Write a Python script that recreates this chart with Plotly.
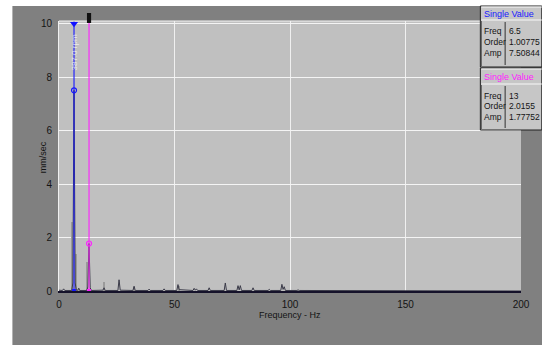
import plotly.graph_objects as go

# ---- spectrum data (frequency in Hz, amplitude in mm/sec) ----
freq_hz = [0.0, 1.5, 2.0, 2.5, 5.5, 6.0, 6.5, 7.0, 7.5, 8.0, 8.5, 9.0,
           12.0, 12.5, 13.0, 13.5, 14.0, 19.0, 19.5, 20.0, 25.5, 26.0, 26.5,
           32.0, 32.5, 33.0, 38.5, 39.0, 39.5, 45.0, 45.5, 46.0, 51.0, 51.5,
           52.0, 58.0, 58.5, 59.0, 59.5, 60.0, 64.5, 65.0, 65.5, 71.5, 72.0,
           72.5, 77.0, 77.5, 78.0, 78.5, 79.0, 83.5, 84.0, 84.5, 90.5, 91.0,
           91.5, 96.0, 96.5, 97.0, 97.5, 98.0, 103.0, 103.5, 104.0, 200.0]
amp_mm_s = [0.03, 0.02, 0.08, 0.02, 0.02, 0.3, 7.50844, 0.3, 0.03, 0.02, 0.1, 0.02,
            0.02, 0.15, 1.77752, 0.12, 0.02, 0.03, 0.12, 0.02, 0.02, 0.42, 0.03,
            0.02, 0.18, 0.02, 0.02, 0.07, 0.02, 0.02, 0.08, 0.02, 0.02, 0.24,
            0.05, 0.02, 0.1, 0.03, 0.08, 0.02, 0.02, 0.12, 0.02, 0.02, 0.3,
            0.02, 0.02, 0.2, 0.04, 0.2, 0.02, 0.02, 0.12, 0.02, 0.02, 0.06,
            0.02, 0.02, 0.25, 0.06, 0.16, 0.02, 0.02, 0.04, 0.02, 0.0]

# neighbouring bins drawn in lighter gray
side_freq = [5.75, 7.25, 12.25, 19.5, 8.5, 32.5, 52.0]
side_amp = [2.6, 1.4, 1.1, 0.35, 0.12, 0.15, 0.2]

# cursors
cursor_freq = [6.5, 13.0]
cursor_amp = [7.50844, 1.77752]
cursor_order = [1.00775, 2.0155]
cursor_color = ["#1818ff", "#ff20ff"]
rpm_label = "387.0 rpm"

x_ticks = [0, 50, 100, 150, 200]
y_ticks = [0, 2, 4, 6, 8, 10]

FONT = "Liberation Sans, Arial, sans-serif"
INK = "#141414"

# plot-area pixel frame used to place panel items in paper coordinates
L, R, T, B = 59, 525, 21, 291
W, H = R - L, B - T


def px(x):
    return (x - L) / W


def py(y):
    return (B - y) / H


fig = go.Figure()

fig.add_trace(go.Bar(x=side_freq, y=side_amp, width=0.45,
                     marker=dict(color="#9a9a9a", line=dict(width=0)),
                     hoverinfo="skip", showlegend=False))
fig.add_trace(go.Scatter(x=freq_hz, y=amp_mm_s, mode="lines",
                         line=dict(color="#3a3a48", width=1),
                         hoverinfo="skip", showlegend=False))

# cursor lines and markers
for f, a, c in zip(cursor_freq, cursor_amp, cursor_color):
    fig.add_trace(go.Scatter(x=[f, f], y=[0, 10.1], mode="lines",
                             line=dict(color=c, width=1.1),
                             hoverinfo="skip", showlegend=False))
    fig.add_trace(go.Scatter(x=[f], y=[a], mode="markers",
                             marker=dict(symbol="circle-open", size=5, color=c,
                                         line=dict(width=1.2)),
                             hoverinfo="skip", showlegend=False))
    fig.add_trace(go.Scatter(x=[f], y=[0], mode="markers",
                             marker=dict(symbol="square", size=4, color=c),
                             cliponaxis=False, hoverinfo="skip", showlegend=False))

fig.add_trace(go.Scatter(x=[cursor_freq[0]], y=[10.0], mode="markers",
                         marker=dict(symbol="triangle-down", size=7, color="#1010ff"),
                         cliponaxis=False, hoverinfo="skip", showlegend=False))

shapes = [
    # white border strips around the gray window
    dict(type="rect", xref="paper", yref="paper", x0=px(-5), x1=px(12),
         y0=py(350), y1=py(-5), fillcolor="white", line=dict(width=0), layer="below"),
    dict(type="rect", xref="paper", yref="paper", x0=px(-5), x1=px(550),
         y0=py(6), y1=py(-5), fillcolor="white", line=dict(width=0), layer="below"),
    # plot frame top edge
    dict(type="line", xref="paper", yref="paper", x0=0, x1=1, y0=1, y1=1,
         line=dict(color="#f4f4f4", width=1)),
    # black handle of the second cursor
    dict(type="rect", xref="x", yref="paper", x0=cursor_freq[1] - 0.9,
         x1=cursor_freq[1] + 0.9, y0=py(23), y1=py(13),
         fillcolor="#101010", line=dict(width=0)),
]

annotations = [
    dict(x=cursor_freq[0] + 0.2, y=py(52), xref="x", yref="paper", text=rpm_label,
         textangle=-90, showarrow=False, xanchor="center", yanchor="middle",
         font=dict(family=FONT, size=8, color="rgba(255,255,255,0.7)")),
    dict(x=px(43), y=py(157), xref="paper", yref="paper", text="mm/sec",
         textangle=-90, showarrow=False, xanchor="center", yanchor="middle",
         font=dict(family=FONT, size=9, color=INK)),
    dict(x=px(292), y=py(315), xref="paper", yref="paper", text="Frequency - Hz",
         showarrow=False, xanchor="center", yanchor="middle",
         font=dict(family=FONT, size=9, color=INK)),
]

# info panels
panel_x0, panel_x1, div_x = 484, 546, 509
panels = [(6, 20, 67), (68, 84, 130)]
for (top, hdr_bot, bot), f, a, o, c in zip(panels, cursor_freq, cursor_amp,
                                            cursor_order, cursor_color):
    shapes += [
        dict(type="rect", xref="paper", yref="paper", x0=px(panel_x0), x1=px(panel_x1),
             y0=py(bot), y1=py(top), fillcolor="#c6c6c6",
             line=dict(color="#202020", width=1)),
        dict(type="line", xref="paper", yref="paper", x0=px(panel_x0 + 1),
             x1=px(panel_x1), y0=py(hdr_bot), y1=py(hdr_bot),
             line=dict(color="#f8f8f8", width=1)),
        dict(type="line", xref="paper", yref="paper", x0=px(panel_x0 + 1),
             x1=px(panel_x1), y0=py(top + 1), y1=py(top + 1),
             line=dict(color="#f8f8f8", width=1)),
        dict(type="line", xref="paper", yref="paper", x0=px(div_x), x1=px(div_x),
             y0=py(bot - 2), y1=py(hdr_bot + 2), line=dict(color="#303030", width=1)),
        dict(type="line", xref="paper", yref="paper", x0=px(panel_x0 + 1),
             x1=px(panel_x0 + 1), y0=py(bot - 1), y1=py(hdr_bot + 1),
             line=dict(color="#5a5a5a", width=1)),
    ]
    annotations.append(dict(x=px(513), y=py((top + hdr_bot) / 2 + 0.5), xref="paper",
                            yref="paper", text="Single Value", showarrow=False,
                            xanchor="center", yanchor="middle",
                            font=dict(family=FONT, size=9, color=c)))
    rows = [("Freq", f"{f:g}"), ("Order", f"{o:g}"), ("Amp", f"{a:g}")]
    for i, (lab, val) in enumerate(rows):
        yy = hdr_bot + 11.5 + i * 10.5
        annotations.append(dict(x=px(486), y=py(yy), xref="paper", yref="paper",
                                text=lab, showarrow=False, xanchor="left",
                                yanchor="middle",
                                font=dict(family=FONT, size=8.5, color=INK)))
        annotations.append(dict(x=px(510.5), y=py(yy), xref="paper", yref="paper",
                                text=val, showarrow=False, xanchor="left",
                                yanchor="middle",
                                font=dict(family=FONT, size=8.5, color=INK)))

fig.update_layout(
    width=542, height=345,
    margin=dict(l=L, r=542 - R, t=T, b=345 - B, pad=0),
    paper_bgcolor="#808080",
    plot_bgcolor="#c0c0c0",
    bargap=0,
    shapes=shapes,
    annotations=annotations,
    font=dict(family=FONT, size=10, color=INK),
    xaxis=dict(range=[0, 200], tickvals=x_ticks, ticktext=[str(v) for v in x_ticks],
               showgrid=True, gridcolor="#f0f0f0", gridwidth=1,
               showline=True, linecolor="#15122a", linewidth=2,
               zeroline=False, ticks="", ticklabelstandoff=3,
               tickfont=dict(family=FONT, size=10, color=INK)),
    yaxis=dict(range=[0, 10.1], tickvals=y_ticks, ticktext=[str(v) for v in y_ticks],
               showgrid=True, gridcolor="#f4f4f4", gridwidth=1,
               showline=True, linecolor="#f0f0f0", linewidth=1,
               zeroline=False, ticks="", ticklabelstandoff=4,
               tickfont=dict(family=FONT, size=10, color=INK)),
)

fig.write_html("out.html")
